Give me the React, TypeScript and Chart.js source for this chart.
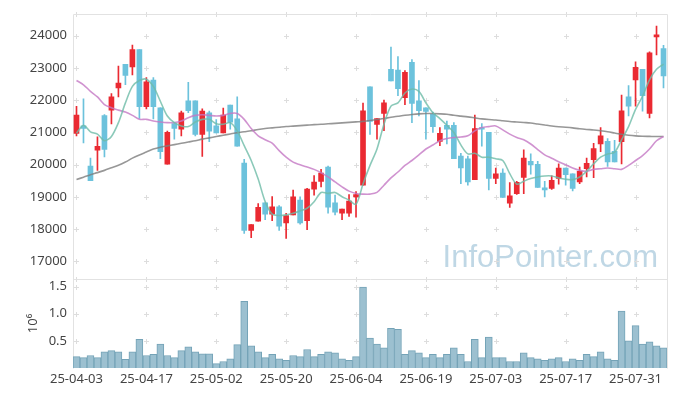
import React, { useEffect, useRef } from "react";
import { Chart, registerables } from "chart.js";

Chart.register(...registerables);

const dates = [
  "25-04-03", "25-04-04", "25-04-07", "25-04-08", "25-04-09", "25-04-10", "25-04-11", "25-04-14", "25-04-15", "25-04-16",
  "25-04-17", "25-04-18", "25-04-21", "25-04-22", "25-04-23", "25-04-24", "25-04-25", "25-04-28", "25-04-29", "25-04-30",
  "25-05-02", "25-05-07", "25-05-08", "25-05-09", "25-05-12", "25-05-13", "25-05-14", "25-05-15", "25-05-16", "25-05-19",
  "25-05-20", "25-05-21", "25-05-22", "25-05-23", "25-05-26", "25-05-27", "25-05-28", "25-05-29", "25-05-30", "25-06-02",
  "25-06-04", "25-06-05", "25-06-09", "25-06-10", "25-06-11", "25-06-12", "25-06-13", "25-06-16", "25-06-17", "25-06-18",
  "25-06-19", "25-06-20", "25-06-23", "25-06-24", "25-06-25", "25-06-26", "25-06-27", "25-06-30", "25-07-01", "25-07-02",
  "25-07-03", "25-07-04", "25-07-07", "25-07-08", "25-07-09", "25-07-10", "25-07-11", "25-07-14", "25-07-15", "25-07-16",
  "25-07-17", "25-07-18", "25-07-21", "25-07-22", "25-07-23", "25-07-24", "25-07-25", "25-07-28", "25-07-29", "25-07-30",
  "25-07-31", "25-08-01", "25-08-04", "25-08-05", "25-08-06",
];

const opens = [
  20970, 21200, 19950, 20450, 21520, 21690, 22380, 23110, 23030, 23570,
  21800, 22620, 21760, 20010, 21270, 21100, 21980, 21980, 20940, 21610,
  21200, 20980, 21850, 21420, 20050, 17960, 18240, 18810, 18460, 18690,
  18190, 18440, 18900, 18260, 19240, 19480, 19920, 18810, 18490, 18490,
  19000, 19360, 22410, 21250, 21590, 22960, 22930, 22080, 23170, 21980,
  21760, 21560, 20720, 21220, 21220, 20260, 20180, 19530, 21150, 21000,
  19570, 19740, 18800, 19100, 19600, 20100, 20010, 19280, 19260, 19570,
  19890, 19710, 19460, 19870, 20150, 20640, 20720, 20410, 20710, 22100,
  22630, 22960, 21590, 23960, 23600,
];
const highs = [
  21810, 22040, 20200, 20860, 21550, 22200, 23060, 23110, 23710, 23570,
  22700, 22700, 21760, 21040, 21270, 21660, 22550, 21980, 21730, 21660,
  21400, 21750, 21850, 22100, 20160, 18140, 18790, 18810, 19010, 18730,
  18490, 19210, 19000, 19260, 19660, 19850, 19950, 19050, 18620, 19070,
  19160, 21910, 22410, 21430, 22000, 23650, 23350, 22920, 23260, 22610,
  21760, 21630, 21150, 21350, 21300, 20350, 20260, 21540, 21270, 21000,
  19890, 19870, 19440, 19480, 20460, 20330, 20100, 19480, 19650, 20020,
  19890, 19710, 19920, 20200, 20660, 21150, 20810, 20750, 22160, 22450,
  23190, 22960, 23500, 24300, 23700,
];
const lows = [
  20890, 20670, 19500, 19820, 20240, 21260, 22100, 22480, 22780, 21430,
  21730, 21420, 20180, 20010, 20790, 20890, 21610, 20890, 20250, 20710,
  20980, 20980, 21100, 20570, 17860, 17730, 18240, 18290, 18260, 17960,
  17710, 18440, 18150, 17980, 19050, 19310, 18490, 18440, 18290, 18390,
  18370, 19360, 20940, 20790, 21050, 22600, 22140, 21860, 21300, 21510,
  20790, 21000, 20590, 20640, 20180, 19410, 19360, 19530, 20570, 19210,
  19410, 18980, 18670, 19070, 19100, 19700, 19290, 19000, 19230, 19390,
  19360, 19180, 19410, 19620, 19590, 20400, 19940, 20080, 20020, 21510,
  21810, 21660, 21450, 23400, 22380,
];
const closes = [
  21540, 21120, 19500, 20570, 20470, 22100, 22530, 22770, 23570, 21800,
  22570, 21800, 20400, 21000, 21120, 21610, 21670, 20940, 21660, 21040,
  20980, 21540, 21320, 20570, 17960, 18140, 18670, 18460, 18690, 18090,
  18420, 19000, 18190, 19240, 19460, 19740, 18680, 18520, 18620, 18870,
  19070, 21670, 21340, 21430, 21920, 22600, 22360, 22860, 21900, 21670,
  21650, 21180, 20970, 21100, 20180, 19900, 19460, 21120, 21100, 19570,
  19710, 18980, 19030, 19450, 20200, 19990, 19290, 19210, 19510, 19890,
  19690, 19260, 19790, 20040, 20500, 20890, 20080, 20080, 21670, 21810,
  23020, 22140, 23470, 24030, 22750,
];
const volumes = [
  210000, 190000, 230000, 190000, 300000, 320000, 300000, 160000, 300000, 530000,
  230000, 250000, 440000, 230000, 190000, 320000, 390000, 300000, 260000, 260000,
  80000, 120000, 170000, 430000, 1230000, 410000, 300000, 190000, 250000, 170000,
  140000, 230000, 210000, 340000, 210000, 250000, 300000, 280000, 170000, 140000,
  210000, 1490000, 550000, 440000, 370000, 730000, 710000, 250000, 320000, 280000,
  190000, 250000, 190000, 250000, 370000, 250000, 120000, 530000, 190000, 570000,
  190000, 190000, 120000, 120000, 280000, 190000, 170000, 140000, 170000, 190000,
  120000, 170000, 140000, 250000, 210000, 300000, 170000, 140000, 1050000, 500000,
  780000, 440000, 480000, 410000, 370000,
];
const ma5 = [
  20975, 21220, 21016, 20944, 20740, 20873, 21302, 21915, 22426, 22610,
  22651, 22426, 21966, 21506, 21302, 21200, 21179, 21322, 21404, 21404,
  21271, 21251, 21302, 21046, 20586, 20127, 19550, 18850, 18461, 18420,
  18440, 18491, 18563, 18645, 18849, 19135, 19105, 19135, 19002, 18900,
  18767, 19400, 19974, 20484, 21251, 21813, 21915, 22222, 22344, 22273,
  21915, 21609, 21425, 21220, 20995, 20610, 20331, 20351, 20229, 20229,
  20178, 20127, 19718, 19391, 19483, 19565, 19616, 19646, 19646, 19585,
  19544, 19534, 19616, 19789, 20024, 20229, 20331, 20382, 20770, 21179,
  21711, 22120, 22630, 22958, 23121,
];
const ma20 = [
  22610, 22477, 22273, 22099, 21864, 21762, 21690, 21629, 21527, 21404,
  21404, 21353, 21322, 21302, 21302, 21353, 21455, 21527, 21547, 21527,
  21506, 21527, 21588, 21588, 21404, 21118, 20893, 20770, 20668, 20433,
  20229, 20075, 19994, 19922, 19851, 19748, 19616, 19462, 19309, 19176,
  19105, 19084, 19084, 19135, 19360, 19585, 19769, 19974, 20127, 20300,
  20484, 20607, 20740, 20811, 20842, 20855, 20893, 21046, 21149, 21179,
  21200, 21077, 20944, 20842, 20770, 20638, 20464, 20300, 20198, 20090,
  19994, 19892, 19820, 19789, 19851, 19871, 19892, 19871, 19851, 19974,
  20127, 20280, 20484, 20740, 20873,
];
const ma120 = [
  19534, 19610, 19687, 19750, 19820, 19900, 19980, 20080, 20200, 20300,
  20390, 20480, 20540, 20580, 20620, 20660, 20700, 20740, 20790, 20830,
  20870, 20910, 20950, 20990, 21020, 21050, 21090, 21120, 21140, 21160,
  21180, 21195, 21210, 21225, 21240, 21250, 21265, 21280, 21295, 21310,
  21325, 21340, 21370, 21400, 21430, 21470, 21500, 21530, 21555, 21575,
  21585, 21585, 21575, 21560, 21530, 21505, 21480, 21450, 21420, 21400,
  21385, 21360, 21335, 21320, 21305, 21290, 21260, 21230, 21200, 21175,
  21160, 21140, 21110, 21090, 21075, 21050, 21020, 20980, 20940, 20910,
  20890, 20880, 20875, 20870, 20870,
];
const priceTicks = [17000, 18000, 19000, 20000, 21000, 22000, 23000, 24000];
const volumeTicks = [500000, 1000000, 1500000];
const watermark = "InfoPointer.com";
const volumeTitle = "10\u2076";

const UP = "#ea2a32";
const DOWN = "#6cc2dc";
const FONT = "'Noto Sans', 'Liberation Sans', sans-serif";

const decorPlugin = {
  id: "decor",
  beforeDatasetsDraw(chart: any) {
    const { ctx, chartArea, scales } = chart;
    const x = scales.x;
    const y = scales.y;
    const yv = scales.yVol;
    ctx.save();
    ctx.font = `31px 'Liberation Sans', sans-serif`;
    ctx.fillStyle = "rgba(170, 202, 220, 0.75)";
    ctx.textAlign = "right";
    ctx.textBaseline = "alphabetic";
    ctx.fillText(watermark, chartArea.right - 9, y.bottom - 12);
    const xs: number[] = [];
    dates.forEach((_, i) => {
      if (i % 10 === 0) xs.push(Math.round(x.getPixelForValue(i)) + 0.5);
    });
    const ys: number[] = [];
    y.ticks.forEach((t: any) => ys.push(Math.round(y.getPixelForValue(t.value)) + 0.5));
    yv.ticks.forEach((t: any) => ys.push(Math.round(yv.getPixelForValue(t.value)) + 0.5));
    ys.push(Math.round(y.bottom) + 0.5);
    ys.push(Math.round(y.top) + 0.5);
    ctx.strokeStyle = "#dddddd";
    ctx.lineWidth = 1;
    ctx.beginPath();
    xs.forEach((px) => {
      ys.forEach((py) => {
        ctx.moveTo(px - 2.5, py);
        ctx.lineTo(px + 2.5, py);
        ctx.moveTo(px, py - 2.5);
        ctx.lineTo(px, py + 2.5);
      });
    });
    ctx.stroke();
    const l = Math.round(chartArea.left) + 0.5;
    const r = Math.round(chartArea.right) + 0.5;
    const t = Math.round(chartArea.top) + 0.5;
    const b = Math.round(chartArea.bottom) + 0.5;
    const m = Math.round(y.bottom) + 0.5;
    ctx.strokeStyle = "#e2e2e2";
    ctx.beginPath();
    ctx.moveTo(l, b);
    ctx.lineTo(l, t);
    ctx.lineTo(r, t);
    ctx.lineTo(r, b);
    ctx.moveTo(l, m);
    ctx.lineTo(r, m);
    ctx.stroke();
    ctx.restore();
  },
};

export default function App() {
  const ref = useRef<HTMLCanvasElement | null>(null);

  useEffect(() => {
    if (!ref.current) return;
    const up = closes.map((c, i) => c >= opens[i]);
    const colors = up.map((u) => (u ? UP : DOWN));
    const tickFont = { family: FONT, size: 13 };

    const chart = new Chart(ref.current, {
      type: "bar",
      data: {
        labels: dates,
        datasets: [
          {
            type: "line",
            label: "MA5",
            data: ma5,
            yAxisID: "y",
            borderColor: "rgba(110, 188, 168, 0.8)",
            borderWidth: 1.6,
            pointRadius: 0,
            tension: 0.3,
            order: 0,
          },
          {
            type: "line",
            label: "MA20",
            data: ma20,
            yAxisID: "y",
            borderColor: "rgba(196, 120, 196, 0.8)",
            borderWidth: 1.6,
            pointRadius: 0,
            tension: 0.3,
            order: 0,
          },
          {
            type: "line",
            label: "MA120",
            data: ma120,
            yAxisID: "y",
            borderColor: "rgba(125, 125, 125, 0.8)",
            borderWidth: 1.6,
            pointRadius: 0,
            tension: 0.3,
            order: 0,
          },
          {
            type: "bar",
            label: "body",
            data: opens.map((o, i) => [o, closes[i]]),
            yAxisID: "y",
            backgroundColor: colors,
            borderWidth: 0,
            barThickness: 5,
            minBarLength: 1,
            grouped: false,
            order: 1,
          } as any,
          {
            type: "bar",
            label: "wick",
            data: lows.map((lo, i) => [lo, highs[i]]),
            yAxisID: "y",
            backgroundColor: colors,
            borderWidth: 0,
            barThickness: 1,
            grouped: false,
            order: 2,
          } as any,
          {
            type: "bar",
            label: "volume",
            data: volumes,
            yAxisID: "yVol",
            backgroundColor: "#9cc0d0",
            borderColor: "#74a3b7",
            borderWidth: 1,
            barPercentage: 1,
            categoryPercentage: 1,
            grouped: false,
            order: 3,
          } as any,
        ],
      },
      options: {
        animation: false,
        responsive: false,
        maintainAspectRatio: false,
        layout: { padding: { top: 10, right: 10, left: 0, bottom: 0 } },
        plugins: { legend: { display: false }, tooltip: { enabled: false } },
        scales: {
          x: {
            type: "category",
            offset: true,
            grid: { display: false, drawTicks: false },
            border: { display: false },
            ticks: {
              autoSkip: false,
              maxRotation: 0,
              minRotation: 0,
              padding: 3,
              color: "#444",
              font: tickFont,
              callback: (_v: any, i: number) => (i % 10 === 0 ? dates[i] : ""),
            },
            afterFit: (s: any) => {
              s.height = 28;
            },
          },
          yVol: {
            type: "linear",
            position: "left",
            stack: "main",
            stackWeight: 90,
            min: 0,
            max: 1640000,
            grid: { display: false, drawTicks: false },
            border: { display: false },
            title: {
              display: true,
              text: volumeTitle,
              color: "#444",
              font: tickFont,
              padding: { top: 25, bottom: 0 },
            },
            ticks: {
              padding: 6,
              color: "#444",
              font: tickFont,
              callback: (v: any) => (Number(v) / 1e6).toFixed(1),
            },
            afterBuildTicks: (s: any) => {
              s.ticks = volumeTicks.map((v) => ({ value: v }));
            },
            afterFit: (s: any) => {
              s.width = 73;
            },
          },
          y: {
            type: "linear",
            position: "left",
            stack: "main",
            stackWeight: 268,
            min: 16450,
            max: 24680,
            grid: { display: false, drawTicks: false },
            border: { display: false },
            ticks: {
              padding: 6,
              color: "#444",
              font: tickFont,
              callback: (v: any) => String(v),
            },
            afterBuildTicks: (s: any) => {
              s.ticks = priceTicks.map((v) => ({ value: v }));
            },
            afterFit: (s: any) => {
              s.width = 73;
            },
          },
        },
      } as any,
      plugins: [decorPlugin],
    });
    return () => chart.destroy();
  }, []);

  return (
    <div style={{ position: "absolute", left: 0, top: 0, width: 677, height: 396, background: "#fff" }}>
      <canvas ref={ref} width={677} height={396} style={{ display: "block" }} />
    </div>
  );
}
